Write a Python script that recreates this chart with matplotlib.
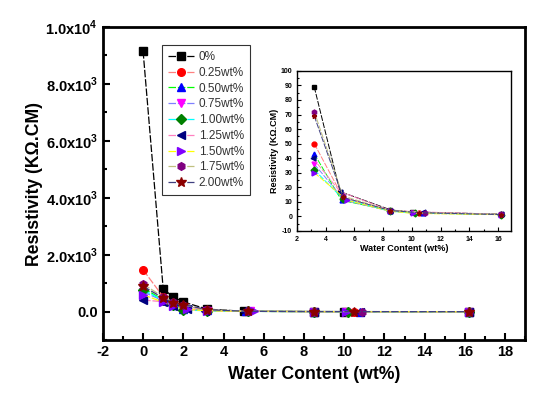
import matplotlib
matplotlib.use("Agg")
import matplotlib.pyplot as plt
from matplotlib.ticker import MultipleLocator, FuncFormatter

plt.rcParams['font.family'] = ['Liberation Sans', 'DejaVu Sans']
plt.rcParams['mathtext.fontset'] = 'custom'
plt.rcParams['mathtext.rm'] = 'Liberation Sans'
plt.rcParams['mathtext.bf'] = 'Liberation Sans:bold'
plt.rcParams['axes.unicode_minus'] = False

# series labels and styles
labels = ['0%', '0.25wt%', '0.50wt%', '0.75wt%', '1.00wt%',
          '1.25wt%', '1.50wt%', '1.75wt%', '2.00wt%']
markers = ['s', 'o', '^', 'v', 'D', '<', '>', 'h', '*']
marker_colors = ['black', 'red', 'blue', 'magenta', 'green',
                 'navy', '#8000ff', 'purple', '#8b0000']
line_colors = ['black', '#ff8080', '#00ff00', '#8080ff', '#00ffff',
               '#ff80c0', '#ffff00', '#c0c080', '#404080']

# water content (wt%) for each series
x_0 = [0, 1.0, 1.5, 2.0, 3.2, 5.0, 8.5, 10.0, 16.2]
x_25 = [0, 1.0, 1.5, 2.0, 3.2, 5.2, 8.5, 10.5, 16.2]
x_50 = [0, 1.0, 1.5, 2.0, 3.2, 5.1, 8.5, 10.8, 16.2]
x_75 = [0, 1.0, 1.5, 2.1, 3.2, 5.3, 8.5, 10.1, 16.2]
x_100 = [0, 1.0, 1.5, 2.0, 3.2, 5.2, 8.5, 10.2, 16.2]
x_125 = [0, 1.0, 1.5, 2.2, 3.1, 5.0, 8.5, 10.8, 16.2]
x_150 = [0, 1.0, 1.5, 2.2, 3.2, 5.5, 8.5, 10.1, 16.2]
x_175 = [0, 1.0, 1.5, 2.0, 3.2, 5.2, 8.5, 10.9, 16.2]
x_200 = [0, 1.0, 1.5, 2.0, 3.2, 5.2, 8.5, 10.5, 16.2]

# resistivity (KOhm.CM)
y_0 = [9150, 800, 520, 340, 89, 17, 4.5, 3.0, 1.5]
y_25 = [1470, 520, 320, 210, 50, 13, 4.0, 2.5, 1.2]
y_50 = [830, 420, 230, 110, 43, 11, 4.0, 2.5, 1.3]
y_75 = [700, 380, 220, 100, 36, 11, 3.5, 2.2, 1.2]
y_100 = [760, 400, 250, 60, 32, 12, 3.5, 2.3, 1.2]
y_125 = [410, 350, 200, 90, 40, 17, 4.0, 3.0, 1.4]
y_150 = [600, 330, 190, 80, 30, 11, 3.5, 2.0, 1.1]
y_175 = [970, 520, 330, 230, 72, 14, 4.0, 2.5, 1.3]
y_200 = [890, 480, 300, 250, 69, 13, 4.0, 2.5, 1.2]

xs = [x_0, x_25, x_50, x_75, x_100, x_125, x_150, x_175, x_200]
ys = [y_0, y_25, y_50, y_75, y_100, y_125, y_150, y_175, y_200]

fig = plt.figure(figsize=(5.5, 3.96), dpi=100)
ax = fig.add_axes([0.187, 0.141, 0.768, 0.791])

for x, y, lab, m, mc, lc in zip(xs, ys, labels, markers, marker_colors, line_colors):
    ms = 7 if m == '*' else 5.5
    ax.plot(x, y, linestyle='--', dashes=(6, 1.5), color=lc, linewidth=0.9,
            marker=m, markersize=ms, markerfacecolor=mc, markeredgecolor=mc,
            label=lab)

ax.set_xlim(-2, 19)
ax.set_ylim(-1000, 10000)
ax.xaxis.set_major_locator(MultipleLocator(2))
ax.xaxis.set_minor_locator(MultipleLocator(1))
ax.yaxis.set_major_locator(MultipleLocator(2000))
ax.yaxis.set_minor_locator(MultipleLocator(1000))


def sci_fmt(v, pos):
    if v == 0:
        return '0.0'
    e = 3 if abs(v) < 10000 else 4
    return r'%.1fx10$^{\mathbf{%d}}$' % (v / 10 ** e, e)


ax.yaxis.set_major_formatter(FuncFormatter(sci_fmt))
ax.tick_params(which='both', direction='in', width=1.5)
ax.tick_params(which='major', length=5, labelsize=10.5)
ax.tick_params(which='minor', length=3)
for t in ax.get_xticklabels() + ax.get_yticklabels():
    t.set_fontweight('bold')
for s in ax.spines.values():
    s.set_linewidth(2)
ax.set_xlabel('Water Content (wt%)', fontsize=12.7, fontweight='bold', labelpad=5)
ax.set_ylabel('Resistivity (KΩ.CM)', fontsize=12.7, fontweight='bold', labelpad=2)

leg = ax.legend(loc='upper left', bbox_to_anchor=(0.14, 0.942), fontsize=8.5,
                frameon=True, fancybox=False, edgecolor='black',
                handlelength=2.2, labelspacing=0.32, borderpad=0.5,
                handletextpad=0.4, borderaxespad=0)
leg.get_frame().set_linewidth(0.8)
for t in leg.get_texts():
    t.set_color('#333333')

# inset
ins = fig.add_axes([0.54, 0.417, 0.389, 0.404])
for x, y, lab, m, mc, lc in zip(xs, ys, labels, markers, marker_colors, line_colors):
    ins.plot(x[4:], y[4:], linestyle='--', dashes=(6, 1.5), color=lc, linewidth=0.7,
             marker=m, markersize=3.5, markerfacecolor=mc, markeredgecolor=mc)
ins.set_xlim(2, 16.9)
ins.set_ylim(-10, 100)
ins.xaxis.set_major_locator(MultipleLocator(2))
ins.xaxis.set_minor_locator(MultipleLocator(1))
ins.yaxis.set_major_locator(MultipleLocator(10))
ins.yaxis.set_minor_locator(MultipleLocator(5))
ins.tick_params(which='both', direction='in', width=0.8, labelsize=5)
ins.tick_params(which='major', length=3)
ins.tick_params(which='minor', length=1.5)
for t in ins.get_xticklabels() + ins.get_yticklabels():
    t.set_fontweight('bold')
for s in ins.spines.values():
    s.set_linewidth(1)
ins.set_xlabel('Water Content (wt%)', fontsize=6.5, fontweight='bold', labelpad=1)
ins.set_ylabel('Resistivity (KΩ.CM)', fontsize=6.5, fontweight='bold', labelpad=1)

plt.savefig('out.png', dpi=100)
